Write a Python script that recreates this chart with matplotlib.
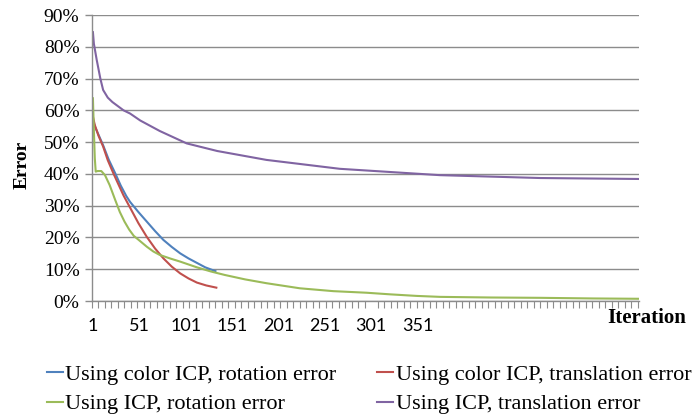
import matplotlib
matplotlib.use("Agg")
import matplotlib.pyplot as plt
from matplotlib.ticker import FixedLocator, PercentFormatter

# Values (iteration, error %)
color_rot_it = [1, 3, 12, 18, 25, 31, 37, 41, 50, 59, 68, 77, 86, 95, 104, 113, 122, 133]
color_rot_err = [57, 55, 49, 44.5, 40.2, 36.3, 33, 31.2, 28, 25, 22, 19.2, 17, 15,
                 13.4, 12, 10.6, 9.4]

color_tr_it = [1, 3, 7, 12, 17, 23, 28, 34, 41, 50, 59, 68, 77, 86, 95, 104, 113, 123, 134]
color_tr_err = [58, 55.4, 52, 48.6, 44.3, 40.2, 37, 33.2, 29.4, 24.5, 20.2, 16.5, 13.4,
                10.8, 8.7, 7.1, 5.8, 4.9, 4.2]

icp_rot_it = [1, 2, 3, 4, 6, 10, 14, 19, 25, 30, 35, 40, 45, 50, 59, 66, 73, 84, 95,
              113, 128, 143, 165, 188, 224, 260, 296, 321, 350, 375, 430, 483, 540, 589]
icp_rot_err = [63.8, 53.8, 45, 40.7, 40.9, 40.9, 39.6, 36.5, 31.8, 28, 25, 22.5, 20.5,
               19.3, 17.1, 15.6, 14.5, 13.4, 12.4, 10.6, 9.3, 8.2, 6.8, 5.6, 4.0, 3.1,
               2.6, 2.1, 1.6, 1.3, 1.1, 1.0, 0.8, 0.7]

icp_tr_it = [1, 2, 5, 9, 12, 17, 22, 34, 41, 52, 73, 102, 135, 188, 267, 375, 483, 589]
icp_tr_err = [84.6, 81, 76, 70, 66.4, 64, 62.6, 60, 59, 56.8, 53.5, 49.6, 47.2, 44.4,
              41.6, 39.6, 38.7, 38.4]

label_iters = [1, 51, 101, 151, 201, 251, 301, 351]
series_names = ["Using color ICP, rotation error", "Using color ICP, translation error",
                "Using ICP, rotation error", "Using ICP, translation error"]
colors = ["#4F81BD", "#C0504D", "#9BBB59", "#8064A2"]

serif = ["Liberation Serif", "DejaVu Serif"]
sans = ["Lato", "DejaVu Sans"]
grid_c = "#8C8C8C"

fig = plt.figure(figsize=(6.95, 4.19), dpi=100)
ax = fig.add_axes([92 / 695, 118 / 419, 547 / 695, 286 / 419])

data = [(color_rot_it, color_rot_err), (color_tr_it, color_tr_err),
        (icp_rot_it, icp_rot_err), (icp_tr_it, icp_tr_err)]
handles = []
for (xs, ys), c, name in zip(data, colors, series_names):
    h, = ax.plot(xs, ys, color=c, lw=1.5, label=name, solid_joinstyle="round")
    handles.append(h)

ax.set_xlim(0, 589.5)
ax.set_ylim(0, 90)
ax.yaxis.set_major_locator(FixedLocator(range(0, 91, 10)))
ax.yaxis.set_major_formatter(PercentFormatter(decimals=0))
ax.grid(axis="y", color=grid_c, lw=1)
ax.set_axisbelow(True)

for s in ["top", "right"]:
    ax.spines[s].set_visible(False)
for s in ["left", "bottom"]:
    ax.spines[s].set_color(grid_c)
    ax.spines[s].set_linewidth(1)

ax.tick_params(axis="y", length=5, width=1, color=grid_c, pad=4)
for lab in ax.get_yticklabels():
    lab.set_fontfamily(serif)
    lab.set_fontsize(14)

# x: labels every 50 iterations without marks, small tick marks every 7
ax.set_xticks(label_iters)
ax.set_xticklabels([str(v) for v in label_iters], fontfamily=sans, fontsize=13)
ax.tick_params(axis="x", which="major", length=0, pad=12)
ax.set_xticks(list(range(0, 590, 7)), minor=True)
ax.tick_params(axis="x", which="minor", length=5, width=0.8, color=grid_c)

fig.text(22 / 695, 1 - 165 / 419, "Error", rotation=90, ha="center", va="center",
         fontfamily=serif, fontweight="bold", fontsize=14)
fig.text(647 / 695, 1 - 318 / 419, "Iteration", ha="center", va="center",
         fontfamily=serif, fontweight="bold", fontsize=15)

# row-major order like the reference: blue, red / green, purple
leg_order = [0, 2, 1, 3]
fig.legend(handles=[handles[k] for k in leg_order], loc="upper left",
           bbox_to_anchor=(47 / 695, 1 - 364 / 419),
           ncol=2, frameon=False, prop={"family": serif, "size": 16},
           handlelength=0.7, handletextpad=0.12, columnspacing=1.85,
           labelspacing=0.42, borderpad=0, borderaxespad=0)

fig.savefig("out.png", dpi=100)
